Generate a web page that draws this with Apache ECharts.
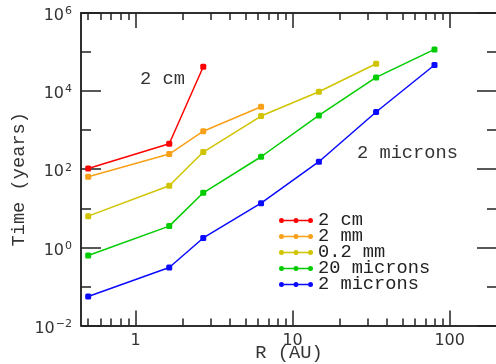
<!DOCTYPE html>
<html>
<head>
<meta charset="utf-8">
<script src="https://cdn.jsdelivr.net/npm/echarts@6/dist/echarts.min.js"></script>
<style>
  html, body { margin: 0; padding: 0; background: #fff; }
  #chart { width: 496px; height: 364px; }
</style>
</head>
<body>
<div id="chart"></div>
<script>
// Orbital radii (AU) sampled by the model runs
const radii = [0.5, 1.64, 2.7, 6.3, 14.7, 34, 80];

// Growth time (years) for each particle size
const seriesNames = ['2 cm', '2 mm', '0.2 mm', '20 microns', '2 microns'];
const time2cm = [105, 450, 42200];
const time2mm = [64, 245, 940, 3990];
const time02mm = [6.3, 37.8, 275, 2300, 9660, 50300];
const time20um = [0.62, 3.5, 25, 209, 2390, 22400, 117000];
const time2um = [0.055, 0.305, 1.74, 13.5, 156, 2920, 46600];
const seriesColors = ['#ff0000', '#f8a018', '#d0c400', '#00cc00', '#0a0aff'];

// Axis ticks
const xMajorTicks = [1, 10, 100];
const xMinorTicks = [0.5, 0.6, 0.7, 0.8, 0.9, 2, 3, 4, 5, 6, 7, 8, 9,
                     20, 30, 40, 50, 60, 70, 80, 90, 200];
const yMajorTicks = [0.01, 1, 100, 1e4, 1e6];
const yMinorTicks = [0.1, 10, 1000, 1e5];

const allTimes = [time2cm, time2mm, time02mm, time20um, time2um];
const monoFont = '"Liberation Mono", "DejaVu Sans Mono", monospace';
const axisColor = '#222';

const chart = echarts.init(document.getElementById('chart'), null, { renderer: 'canvas' });

function xAxisDef(position, ticks, len, withLabels) {
  return {
    type: 'log', logBase: 10, min: 0.45, max: 200, position: position,
    gridIndex: 0,
    axisLine: { show: true, onZero: false, lineStyle: { color: axisColor, width: 1.5 } },
    axisTick: { show: true, inside: true, length: len, customValues: ticks,
                lineStyle: { color: axisColor, width: 1.5 } },
    axisLabel: { show: withLabels, customValues: ticks, margin: 7,
                 fontFamily: 'DejaVu Sans', fontSize: 16, color: '#333' },
    splitLine: { show: false }, minorTick: { show: false }
  };
}

function yAxisDef(position, ticks, len, withLabels) {
  return {
    type: 'log', logBase: 10, min: 0.01, max: 1e6, position: position,
    gridIndex: 0,
    axisLine: { show: true, onZero: false, lineStyle: { color: axisColor, width: 1.5 } },
    axisTick: { show: true, inside: true, length: len, customValues: ticks,
                lineStyle: { color: axisColor, width: 1.5 } },
    axisLabel: {
      show: withLabels, customValues: ticks, margin: 9,
      formatter: function (v) {
        const e = Math.round(Math.log10(v));
        return '{b|10}{s|' + (e < 0 ? '\u2212' + (-e) : e) + '}';
      },
      rich: {
        b: { fontFamily: 'DejaVu Sans', fontSize: 16, lineHeight: 16, color: '#333',
             padding: [6, 0, 0, 0] },
        s: { fontFamily: 'DejaVu Sans', fontSize: 11, lineHeight: 11, color: '#333',
             padding: [4, 0, 7, 1] }
      }
    },
    splitLine: { show: false }, minorTick: { show: false }
  };
}

const xAxes = [
  Object.assign(xAxisDef('bottom', xMajorTicks, 15, true), {
    name: 'R (AU)', nameLocation: 'middle', nameGap: 18, nameMoveOverlap: false,
    nameTextStyle: { fontFamily: monoFont, fontSize: 18.7, color: '#333' }
  }),
  xAxisDef('bottom', xMinorTicks, 7, false),
  xAxisDef('top', xMajorTicks, 15, false),
  xAxisDef('top', xMinorTicks, 7, false)
];

const yAxes = [
  Object.assign(yAxisDef('left', yMajorTicks, 20, true), {
    name: 'Time (years)', nameLocation: 'middle', nameGap: 52, nameMoveOverlap: false,
    nameTextStyle: { fontFamily: monoFont, fontSize: 18.7, color: '#333', padding: [0, 20, 0, 0] }
  }),
  yAxisDef('left', yMinorTicks, 10, false),
  yAxisDef('right', yMajorTicks, 20, false),
  yAxisDef('right', yMinorTicks, 10, false)
];

const series = seriesNames.map(function (name, i) {
  const vals = allTimes[i];
  return {
    name: name,
    type: 'line',
    xAxisIndex: 0, yAxisIndex: 0,
    data: vals.map(function (t, j) { return [radii[j], t]; }),
    symbol: 'roundRect', symbolSize: 6,
    showSymbol: true,
    color: seriesColors[i],
    lineStyle: { color: seriesColors[i], width: 1.5 },
    itemStyle: { color: seriesColors[i] },
    emphasis: { disabled: true },
    animation: false
  };
});

// Legend glyph: a short line joining three dots
const legendIcon = 'path://M0 3A2.5 2.5 0 1 0 5 3A2.5 2.5 0 1 0 0 3Z' +
  'M14.5 3A2.5 2.5 0 1 0 19.5 3A2.5 2.5 0 1 0 14.5 3Z' +
  'M29 3A2.5 2.5 0 1 0 34 3A2.5 2.5 0 1 0 29 3Z' +
  'M5 2.3L14.5 2.3L14.5 3.7L5 3.7Z' +
  'M19.5 2.3L29 2.3L29 3.7L19.5 3.7Z';

chart.setOption({
  animation: false,
  backgroundColor: '#fff',
  grid: { left: 81, right: -1, top: 13, bottom: 38.5, containLabel: false, outerBoundsMode: 'none' },
  xAxis: xAxes,
  yAxis: yAxes,
  legend: {
    orient: 'vertical', left: 279, top: 211, padding: 0,
    icon: legendIcon, itemWidth: 34, itemHeight: 5, itemGap: -3,
    selectedMode: false,
    textStyle: { fontFamily: monoFont, fontSize: 18.7, color: '#222' },
    data: seriesNames
  },
  graphic: [
    { type: 'text', left: 140, top: 70,
      style: { text: '2 cm', font: '18.7px ' + monoFont, fill: '#333' } },
    { type: 'text', left: 357, top: 144,
      style: { text: '2 microns', font: '18.7px ' + monoFont, fill: '#333' } }
  ],
  series: series
});
</script>
</body>
</html>
